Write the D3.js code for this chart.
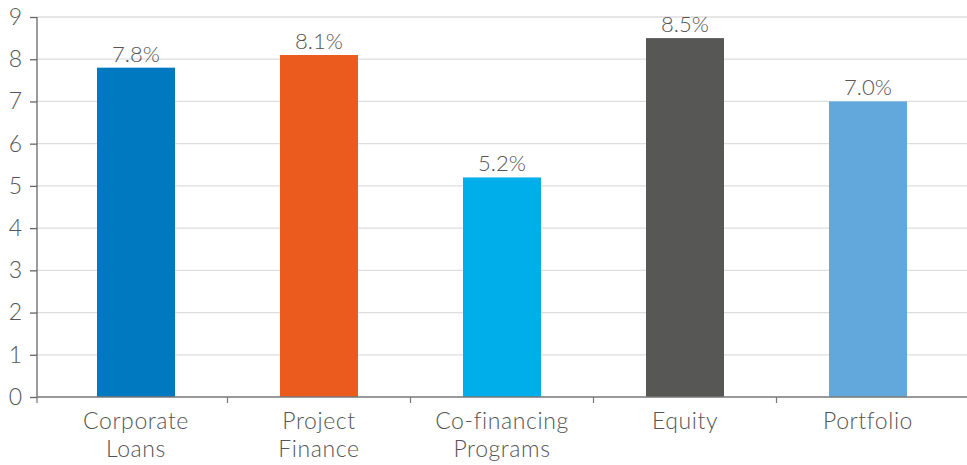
<!DOCTYPE html>
<html>
<head>
<meta charset="utf-8">
<script src="https://cdn.jsdelivr.net/npm/d3@7"></script>
<style>
  html, body { margin: 0; padding: 0; background: #fff; }
  svg { display: block; }
  text { font-family: Lato, "Open Sans", sans-serif; fill: #555; }
</style>
</head>
<body>
<svg id="chart" width="967" height="465"></svg>
<script>
// Average return by instrument (%)
const categories = [["Corporate", "Loans"], ["Project", "Finance"], ["Co-financing", "Programs"], ["Equity"], ["Portfolio"]];
const values = [7.8, 8.1, 5.2, 8.5, 7.0];
const colors = ["#0079C1", "#EB5B1E", "#00AEEA", "#575756", "#62A8DC"];
const yTicks = [0, 1, 2, 3, 4, 5, 6, 7, 8, 9];

const svg = d3.select("#chart");
const axisX = 37, axisRight = 967;

const x = d3.scaleBand()
  .domain(d3.range(values.length))
  .range([44.5, 959.5])
  .paddingInner(0)
  .paddingOuter(0);

const y = d3.scaleLinear().domain([0, 9]).range([397, 17]);

// horizontal gridlines
svg.append("g")
  .selectAll("line")
  .data(yTicks.filter(d => d > 0))
  .join("line")
  .attr("x1", axisX).attr("x2", axisRight)
  .attr("y1", d => y(d)).attr("y2", d => y(d))
  .attr("stroke", "#dedede").attr("stroke-width", 1.3);

// bars
const barW = 78;
svg.append("g")
  .selectAll("rect")
  .data(values)
  .join("rect")
  .attr("x", (d, i) => x(i) + x.bandwidth() / 2 - barW / 2)
  .attr("width", barW)
  .attr("y", d => y(d))
  .attr("height", d => y(0) - y(d))
  .attr("fill", (d, i) => colors[i]);

// value labels
svg.append("g")
  .selectAll("text")
  .data(values)
  .join("text")
  .attr("x", (d, i) => x(i) + x.bandwidth() / 2)
  .attr("y", d => y(d) - 6)
  .attr("text-anchor", "middle")
  .attr("font-size", 22)
  .attr("font-weight", 300)
  .text(d => d.toFixed(1) + "%");

// y axis
const yAxis = svg.append("g").attr("transform", `translate(${axisX},0)`)
  .call(d3.axisLeft(y).tickValues(yTicks).tickSize(7).tickPadding(8).tickFormat(d3.format("d")));
yAxis.select(".domain").attr("d", `M0,${y(9)}V${y(0)}`).attr("stroke", "#666").attr("stroke-width", 1.3);
yAxis.selectAll(".tick line").attr("stroke", "#666").attr("stroke-width", 1.3);
yAxis.selectAll(".tick text").attr("font-size", 23).attr("font-weight", 300).attr("fill", "#555")
  .style("font-family", "Lato, 'Open Sans', sans-serif");

// x axis line and category boundary ticks
svg.append("line")
  .attr("x1", axisX).attr("x2", axisRight)
  .attr("y1", y(0)).attr("y2", y(0))
  .attr("stroke", "#777").attr("stroke-width", 1.3);

const bounds = d3.range(values.length - 1).map(i => x(i + 1));
svg.append("g")
  .selectAll("line")
  .data([axisX].concat(bounds))
  .join("line")
  .attr("x1", d => d).attr("x2", d => d)
  .attr("y1", y(0)).attr("y2", y(0) + 6)
  .attr("stroke", "#777").attr("stroke-width", 1.2);

// category labels
const lab = svg.append("g")
  .selectAll("text")
  .data(categories)
  .join("text")
  .attr("x", (d, i) => x(i) + x.bandwidth() / 2)
  .attr("y", 429)
  .attr("text-anchor", "middle")
  .attr("font-size", 23)
  .attr("font-weight", 300)
  .attr("letter-spacing", 0.6);
lab.selectAll("tspan")
  .data(d => d)
  .join("tspan")
  .attr("x", function() { return d3.select(this.parentNode).attr("x"); })
  .attr("dy", (d, i) => i === 0 ? 0 : 28)
  .text(d => d);
</script>
</body>
</html>
